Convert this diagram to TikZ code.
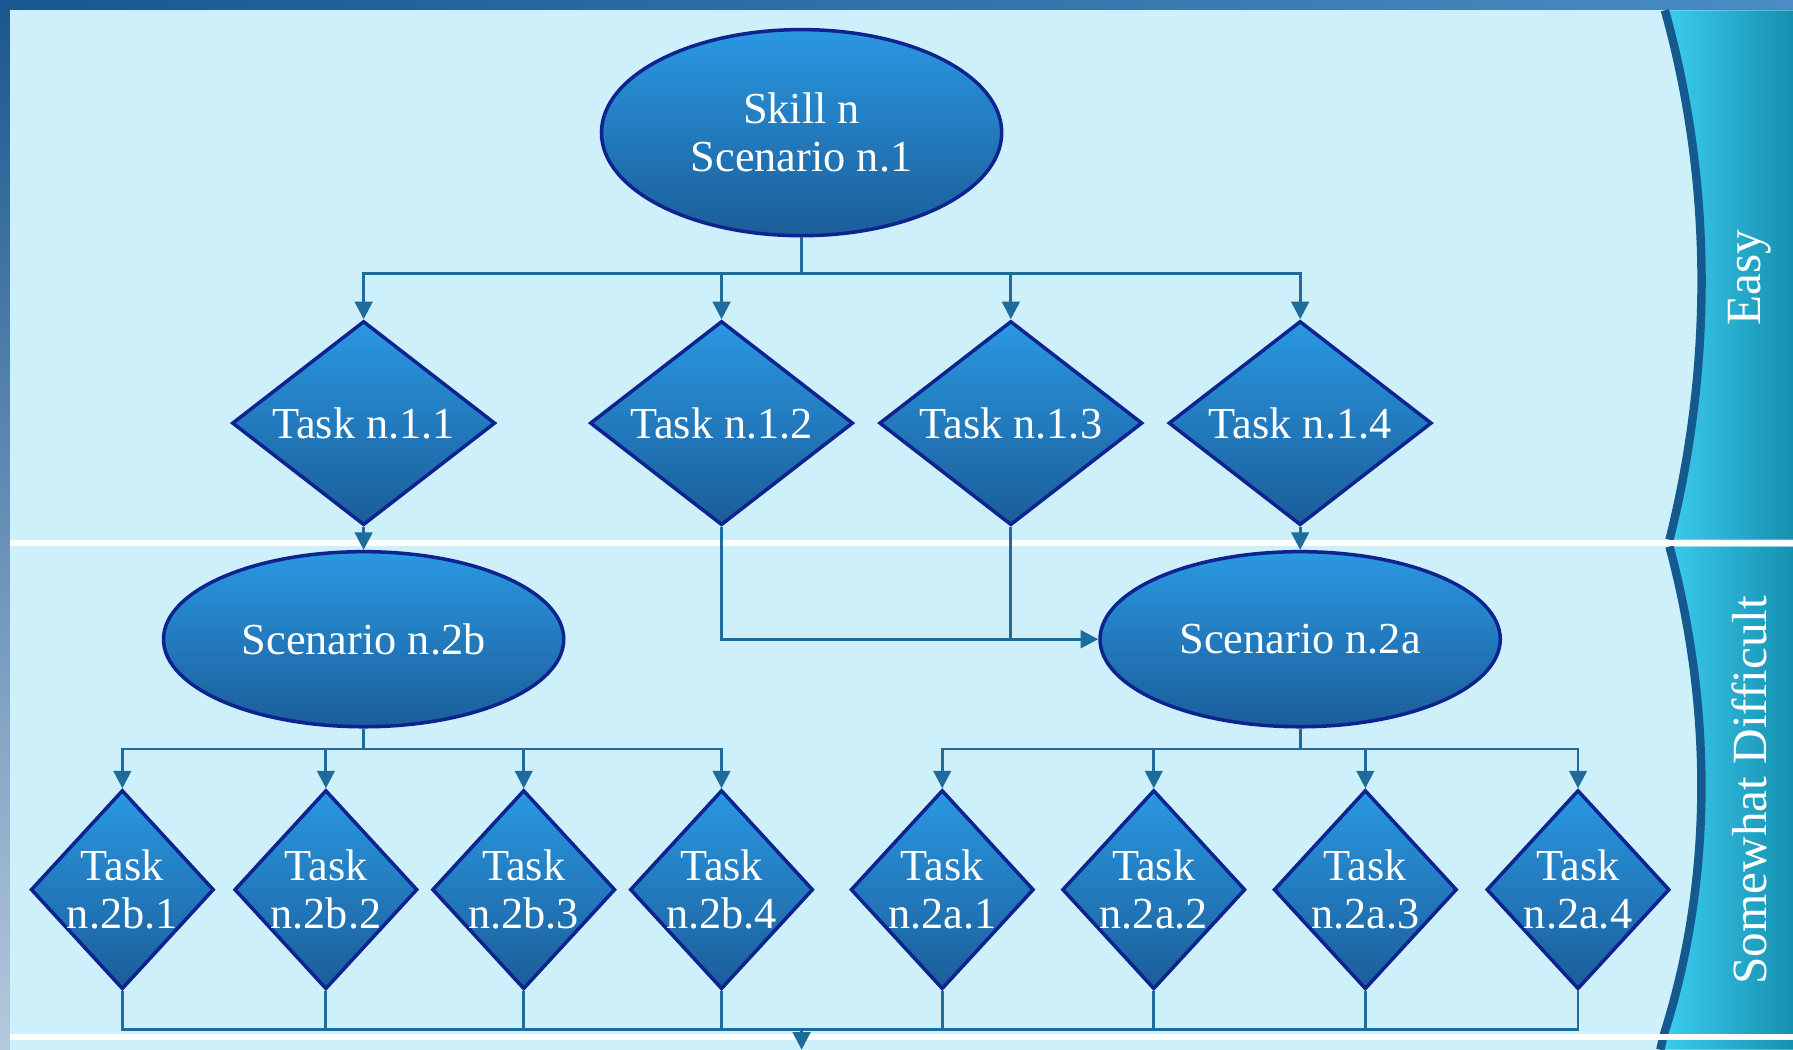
\documentclass[tikz,border=0pt]{standalone}
\usepackage{fontspec}
\setmainfont{Liberation Serif}
\usetikzlibrary{shapes.geometric,arrows.meta,positioning}

\definecolor{panel}{HTML}{CDF0FA}
\definecolor{frame}{HTML}{1A5690}
\definecolor{frameend}{HTML}{4A8CC4}
\definecolor{framelow}{HTML}{B4C9DC}
\definecolor{navy}{HTML}{0D2390}
\definecolor{wire}{HTML}{1E6B9C}
\definecolor{boxtop}{HTML}{2A98E2}
\definecolor{boxbot}{HTML}{1B5D99}
\definecolor{bandl}{HTML}{3CCDF0}
\definecolor{bandr}{HTML}{1690B0}
\definecolor{bandedge}{HTML}{145A8E}

\tikzset{
  box/.style={draw=navy, line width=1pt, top color=boxtop, bottom color=boxbot, inner sep=0pt},
  scen/.style={box, ellipse, minimum width=4.0cm},
  toptask/.style={box, diamond, minimum width=2.63cm, minimum height=2.04cm},
  lowtask/.style={box, diamond, minimum width=1.83cm, minimum height=1.99cm},
  txt/.style={text=white, align=center, font=\fontsize{12.6}{13.5}\selectfont},
  link/.style={draw=wire, line width=0.8pt},
  flow/.style={link, -{Triangle[length=5pt,width=5pt]}},
  level/.style={text=white, rotate=90, font=\fontsize{14}{16}\selectfont},
}

\begin{document}
\begin{tikzpicture}[x=0.011435cm, y=-0.011435cm]
    \useasboundingbox (0,0) rectangle (1568,918);
    % backdrop
    \shade[left color=frame, right color=frameend] (0,0) rectangle (1568,9);
    \shade[top color=frame, bottom color=framelow] (0,0) rectangle (9,918);
    \fill[panel] (9,9) rectangle (1568,918);
%
    \shade[left color=bandl, right color=bandr]
        (1456,9) .. controls (1498,160) and (1498,320) .. (1460,472)
        -- (1568,472) -- (1568,9) -- cycle;
    \draw[bandedge, line width=2.4pt]
        (1456,9) .. controls (1498,160) and (1498,320) .. (1460,472);
    \shade[left color=bandl, right color=bandr]
        (1460,478) .. controls (1498,620) and (1498,770) .. (1455,905)
        -- (1568,905) -- (1568,478) -- cycle;
    \draw[bandedge, line width=2.4pt]
        (1460,478) .. controls (1498,620) and (1498,770) .. (1455,905);
    \shade[left color=bandl, right color=bandr]
        (1454,909) -- (1568,909) -- (1568,918) -- (1452,918) -- cycle;
    \draw[bandedge, line width=2.4pt] (1454,909) -- (1452,918);
    \draw[white, line width=1.6pt] (9,475) -- (1568,475);
    \draw[white, line width=1.6pt] (9,907) -- (1568,907);
    \node[level] (easy) at (1530,243) {Easy};
    \node[level] (hard) at (1530,691) {Somewhat Difficult};
%
    \node[scen, minimum height=2.06cm, txt] (sk) at (701,116) {Skill n\\Scenario n.1};
    \node[toptask, label={[txt]center:Task n.1.1}] (t11) at (318,370) {};
    \node[toptask, label={[txt]center:Task n.1.2}] (t12) at (631,370) {};
    \node[toptask, label={[txt]center:Task n.1.3}] (t13) at (884,370) {};
    \node[toptask, label={[txt]center:Task n.1.4}] (t14) at (1137,370) {};
    \node[scen, minimum height=1.75cm, txt] (s2b) at (318,559) {Scenario n.2b};
    \node[scen, minimum height=1.75cm, txt] (s2a) at (1137,559) {Scenario n.2a};
%
    \node[lowtask, label={[txt]center:{Task\\n.2b.1}}] (b1) at (107,778) {};
    \node[lowtask, label={[txt]center:{Task\\n.2b.2}}] (b2) at (285,778) {};
    \node[lowtask, label={[txt]center:{Task\\n.2b.3}}] (b3) at (458,778) {};
    \node[lowtask, label={[txt]center:{Task\\n.2b.4}}] (b4) at (631,778) {};
    \node[lowtask, label={[txt]center:{Task\\n.2a.1}}] (a1) at (824,778) {};
    \node[lowtask, label={[txt]center:{Task\\n.2a.2}}] (a2) at (1009,778) {};
    \node[lowtask, label={[txt]center:{Task\\n.2a.3}}] (a3) at (1194,778) {};
    \node[lowtask, label={[txt]center:{Task\\n.2a.4}}] (a4) at (1380,778) {};
%
    \coordinate (j1) at (701,239);
    \draw[link] (sk.south) -- (j1);
    \draw[flow] (j1) -| (t11.north);
    \draw[flow] (j1) -| (t12.north);
    \draw[flow] (j1) -| (t13.north);
    \draw[flow] (j1) -| (t14.north);
    \draw[flow] (t11.south) -- (s2b.north);
    \draw[flow] (t14.south) -- (s2a.north);
    \draw[flow] (t12.south) |- (s2a.west);
    \draw[link] (t13.south) -- (t13.south |- s2a.west);
%
    \coordinate (j2) at (318,655);
    \draw[link] (s2b.south) -- (j2);
    \draw[flow] (j2) -| (b1.north);
    \draw[flow] (j2) -| (b2.north);
    \draw[flow] (j2) -| (b3.north);
    \draw[flow] (j2) -| (b4.north);
    \coordinate (j3) at (1137,655);
    \draw[link] (s2a.south) -- (j3);
    \draw[flow] (j3) -| (a1.north);
    \draw[flow] (j3) -| (a2.north);
    \draw[flow] (j3) -| (a3.north);
    \draw[flow] (j3) -| (a4.north);
%
    \coordinate (j4) at (701,900);
    \coordinate (out) at (701,918);
    \draw[link] (b1.south) |- (j4);
    \draw[link] (b2.south) |- (j4);
    \draw[link] (b3.south) |- (j4);
    \draw[link] (b4.south) |- (j4);
    \draw[link] (a1.south) |- (j4);
    \draw[link] (a2.south) |- (j4);
    \draw[link] (a3.south) |- (j4);
    \draw[link] (a4.south) |- (j4);
    \draw[flow] (j4) -- (out);
\end{tikzpicture}
\end{document}
